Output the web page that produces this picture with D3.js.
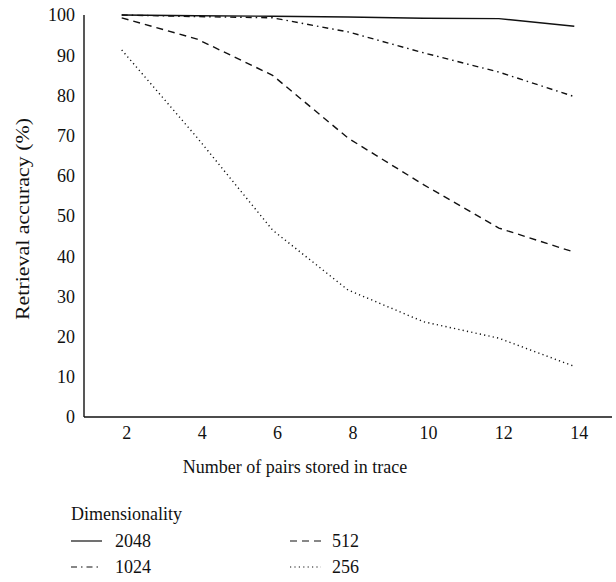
<!DOCTYPE html>
<html>
<head>
<meta charset="utf-8">
<script src="https://cdn.jsdelivr.net/npm/d3@7"></script>
<style>
  body { margin: 0; background: #fff; }
  svg text { font-family: "Liberation Serif", "DejaVu Serif", serif; fill: #111; }
</style>
</head>
<body>
<svg id="chart" width="616" height="582"></svg>
<script>
// data
var pairs = [2, 4, 6, 8, 10, 12, 14];
var yTicks = [0, 10, 20, 30, 40, 50, 60, 70, 80, 90, 100];
var dims = ["2048", "1024", "512", "256"];
var acc2048 = [100, 99.8, 99.7, 99.5, 99.2, 99.1, 97.2];
var acc1024 = [100, 99.6, 99.3, 95.8, 90.6, 85.8, 79.7];
var acc512  = [99.3, 94, 85, 69.4, 57.8, 47, 41];
var acc256  = [91.3, 69.5, 46.5, 31.6, 23.7, 19.6, 12.6];

var series = [
  { name: dims[0], values: acc2048, dash: null },
  { name: dims[1], values: acc1024, dash: "6,4,1.5,4" },
  { name: dims[2], values: acc512,  dash: "7,5" },
  { name: dims[3], values: acc256,  dash: "1.2,3.2" }
];

var svg = d3.select("#chart");
var plotL = 84, plotR = 612, plotT = 15, plotB = 417;

var x = d3.scalePoint()
    .domain(pairs)
    .range([plotL, plotR])
    .padding(0.5);

var y = d3.scaleLinear()
    .domain([0, 100])
    .range([plotB, plotT]);

// axes (no tick marks)
svg.append("line")
    .attr("x1", plotL).attr("x2", plotL)
    .attr("y1", plotT).attr("y2", plotB)
    .attr("stroke", "#111").attr("stroke-width", 1.4);
svg.append("line")
    .attr("x1", plotL).attr("x2", plotR)
    .attr("y1", plotB).attr("y2", plotB)
    .attr("stroke", "#111").attr("stroke-width", 1.4);

svg.selectAll(".ylab")
    .data(yTicks)
    .enter().append("text")
    .attr("class", "ylab")
    .attr("x", plotL - 9)
    .attr("y", function (d) { return y(d); })
    .attr("dy", "0.35em")
    .attr("text-anchor", "end")
    .style("font-size", "18px")
    .text(function (d) { return d; });

svg.selectAll(".xlab")
    .data(pairs)
    .enter().append("text")
    .attr("class", "xlab")
    .attr("x", function (d) { return x(d) + 5; })
    .attr("y", 439)
    .attr("text-anchor", "middle")
    .style("font-size", "18px")
    .text(function (d) { return d; });

svg.append("text")
    .attr("x", 295)
    .attr("y", 473)
    .attr("text-anchor", "middle")
    .style("font-size", "18px")
    .text("Number of pairs stored in trace");

svg.append("text")
    .attr("transform", "translate(29,219) rotate(-90)")
    .attr("text-anchor", "middle")
    .attr("textLength", 202)
    .attr("lengthAdjust", "spacingAndGlyphs")
    .style("font-size", "19px")
    .text("Retrieval accuracy (%)");

// lines
var line = d3.line()
    .x(function (d, i) { return x(pairs[i]); })
    .y(function (d) { return y(d); });

svg.selectAll(".series")
    .data(series)
    .enter().append("path")
    .attr("class", "series")
    .attr("d", function (d) { return line(d.values); })
    .attr("fill", "none")
    .attr("stroke", "#111")
    .attr("stroke-width", 1.4)
    .attr("stroke-dasharray", function (d) { return d.dash; });

// legend
svg.append("text")
    .attr("x", 71)
    .attr("y", 520)
    .style("font-size", "18px")
    .text("Dimensionality");

var legend = svg.selectAll(".leg")
    .data(series)
    .enter().append("g")
    .attr("class", "leg")
    .attr("transform", function (d, i) {
      var col = i < 2 ? 0 : 1, row = i % 2;
      return "translate(" + (col ? 290 : 71) + "," + (541 + row * 26) + ")";
    });

legend.append("line")
    .attr("x1", 0).attr("x2", 31)
    .attr("y1", 0).attr("y2", 0)
    .attr("stroke", "#111")
    .attr("stroke-width", 1.2)
    .attr("stroke-dasharray", function (d) { return d.dash; });

legend.append("text")
    .attr("x", function (d, i) { return i < 2 ? 44 : 42; })
    .attr("dy", "0.35em")
    .style("font-size", "18px")
    .text(function (d) { return d.name; });
</script>
</body>
</html>
